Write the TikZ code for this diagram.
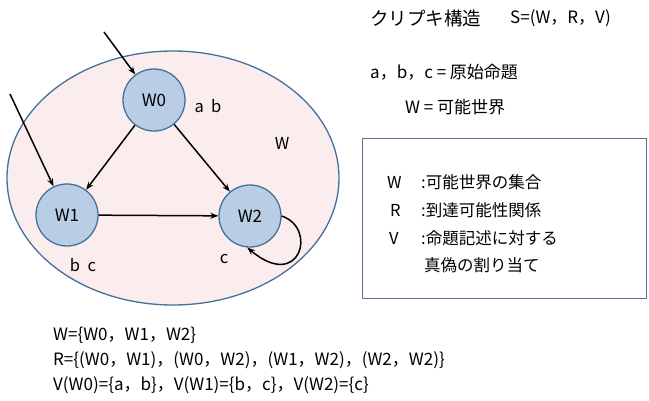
\documentclass[tikz,border=0pt]{standalone}
\usepackage{fontspec}
\setmainfont{Noto Sans CJK JP}
\usetikzlibrary{arrows.meta}
\definecolor{edgeblue}{HTML}{41719C}
\definecolor{nodefill}{HTML}{B9CDE5}
\definecolor{pinkfill}{HTML}{FBEDED}
\definecolor{boxline}{HTML}{5A7394}
\tikzset{
  world/.style={circle, draw=edgeblue, fill=nodefill, line width=1.3pt, minimum size=62pt, inner sep=0pt, font=\fontsize{17}{19}\selectfont},
  lbl/.style={font=\fontsize{16.5}{19}\selectfont, inner sep=0pt},
  txt/.style={font=\fontsize{17}{19}\selectfont, inner sep=0pt, anchor=west},
  big/.style={font=\fontsize{18.5}{20}\selectfont, inner sep=0pt, anchor=west},
  boxtxt/.style={font=\fontsize{16.5}{19}\selectfont, inner sep=0pt, anchor=west},
  arr/.style={-{Stealth[length=8pt,width=6pt]}, line width=1.5pt, black},
}
\begin{document}
\begin{tikzpicture}[x=1pt,y=-1pt]
\useasboundingbox (0,0) rectangle (649,400);
% ellipse universe
\draw[edgeblue, fill=pinkfill, line width=1.3pt] (173,178) ellipse [x radius=166, y radius=127];
% worlds
\node[world] (w0) at (154,100) {W0};
\node[world] (w1) at (67,215) {W1};
\node[world] (w2) at (250,216) {W2};
\coordinate (in0) at (104,32);
\coordinate (in1) at (10,94);
\draw[arr] (in0) -- (w0);
\draw[arr] (in1) -- (w1);
\draw[arr] (w0) -- (w1);
\draw[arr] (w0) -- (w2);
\draw[arr] (w1) -- (w2);
\draw[arr] (w2.east) .. controls (318,228) and (300,292) .. (w2.-95);
% labels
\node[lbl] (lab0) at (208,106) {a\ \ b};
\node[lbl] (labW) at (282,143) {W};
\node[lbl] (lab1) at (83,265) {b\ \ c};
\node[lbl] (lab2) at (224,259) {c};
% right texts
\node[big] (title) at (370,18) {クリプキ構造};
\node[txt] (struct) at (510,18) {S=(W，R，V)};
\node[txt] (prop) at (370,72) {a，b，c = 原始命題};
\node[txt] (worlds) at (405,107) {W = 可能世界};
% box
\node[draw=boxline, line width=1.3pt, minimum width=284pt, minimum height=160pt, anchor=north west, inner sep=0pt] (box) at (362,138) {};
\node[boxtxt] (bW) at (387,182) {W};
\node[boxtxt] (bR) at (390,210) {R};
\node[boxtxt] (bV) at (389,238) {V};
\node[boxtxt] (dW) at (421,182) {:可能世界の集合};
\node[boxtxt] (dR) at (421,210) {:到達可能性関係};
\node[boxtxt] (dV) at (421,238) {:命題記述に対する};
\node[boxtxt] (dV2) at (424,265) {真偽の割り当て};
% bottom
\node[txt] (l1) at (53,335) {W=\{W0，W1，W2\}};
\node[txt] (l2) at (53,360) {R=\{(W0，W1)，(W0，W2)，(W1，W2)，(W2，W2)\}};
\node[txt] (l3) at (53,385) {V(W0)=\{a，b\}，V(W1)=\{b，c\}，V(W2)=\{c\}};
\end{tikzpicture}
\end{document}
